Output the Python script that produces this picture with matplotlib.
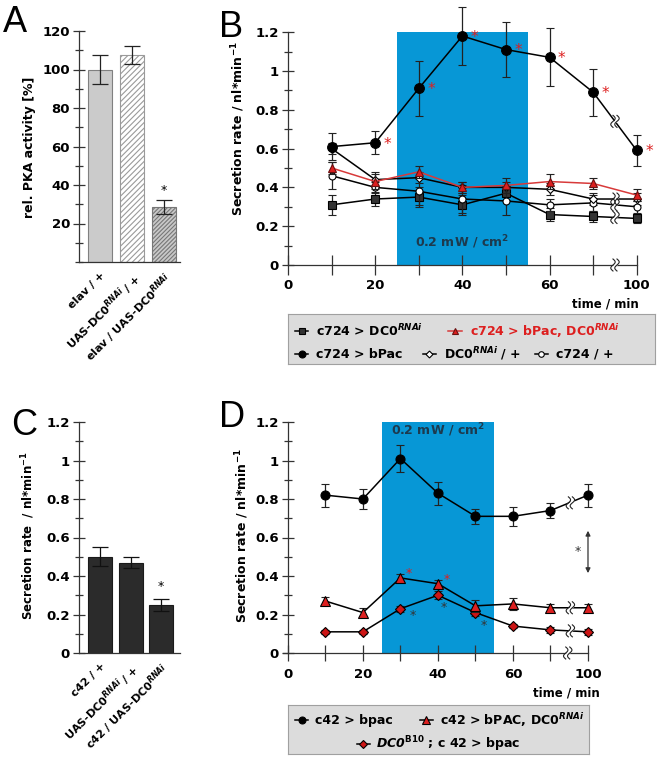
import numpy as np
import matplotlib
matplotlib.use('Agg')
import matplotlib.pyplot as plt
from matplotlib.ticker import MultipleLocator, FixedLocator, FuncFormatter

plt.rcParams['font.family'] = ['DejaVu Sans']
plt.rcParams['font.weight'] = 'bold'
plt.rcParams['mathtext.fontset'] = 'custom'
plt.rcParams['mathtext.rm'] = 'DejaVu Sans:bold'
plt.rcParams['mathtext.it'] = 'DejaVu Sans:italic'
plt.rcParams['mathtext.bf'] = 'DejaVu Sans:bold'
plt.rcParams['mathtext.cal'] = 'DejaVu Sans:bold:italic'
plt.rcParams['hatch.linewidth'] = 0.8

# ---- data ----
# A: PKA activity
pka_labels = ['elav / +', 'UAS-DC0$^{RNAi}$ / +', 'elav / UAS-DC0$^{RNAi}$']
pka_mean = [100, 107.5, 28.5]
pka_err = [7.5, 4.5, 3.5]

# B: secretion, c724 lines (time in min, 100 drawn after axis break)
times = [10, 20, 30, 40, 50, 60, 70, 100]
b_bpac = [0.61, 0.63, 0.91, 1.18, 1.11, 1.07, 0.89, 0.59]
b_bpac_err = [0.07, 0.06, 0.14, 0.15, 0.14, 0.15, 0.12, 0.08]
b_rnai = [0.31, 0.34, 0.35, 0.31, 0.37, 0.26, 0.25, 0.24]
b_rnai_err = [0.05, 0.035, 0.05, 0.05, 0.035, 0.035, 0.03, 0.025]
b_bpac_rnai = [0.50, 0.43, 0.48, 0.40, 0.41, 0.43, 0.42, 0.36]
b_bpac_rnai_err = [0.03, 0.04, 0.03, 0.03, 0.04, 0.04, 0.03, 0.03]
b_dc0 = [0.60, 0.44, 0.45, 0.40, 0.40, 0.39, 0.34, 0.34]
b_dc0_err = [0.03, 0.04, 0.03, 0.03, 0.03, 0.03, 0.03, 0.03]
b_c724 = [0.46, 0.40, 0.38, 0.34, 0.33, 0.31, 0.32, 0.30]
b_c724_err = [0.07, 0.03, 0.07, 0.07, 0.07, 0.03, 0.04, 0.03]
b_sig = [False, True, True, True, True, True, True, True]

# C: secretion, c42 controls
c_labels = ['c42 / +', 'UAS-DC0$^{RNAi}$ / +', 'c42 / UAS-DC0$^{RNAi}$']
c_mean = [0.50, 0.47, 0.25]
c_err = [0.05, 0.03, 0.03]

# D: secretion, c42 lines
d_bpac = [0.82, 0.80, 1.01, 0.83, 0.71, 0.71, 0.74, 0.82]
d_bpac_err = [0.06, 0.05, 0.07, 0.06, 0.04, 0.05, 0.04, 0.06]
d_rnai = [0.27, 0.21, 0.39, 0.36, 0.245, 0.255, 0.235, 0.235]
d_rnai_err = [0.02, 0.025, 0.02, 0.02, 0.03, 0.03, 0.02, 0.02]
d_b10 = [0.11, 0.11, 0.23, 0.30, 0.21, 0.14, 0.12, 0.11]
d_b10_err = [0.01, 0.01, 0.015, 0.02, 0.02, 0.01, 0.015, 0.015]
d_sig_rnai = [False, False, True, True, False, False, False, False]
d_sig_b10 = [False, False, True, True, True, False, False, False]

light = (25, 55)
BLUE = '#0797d6'
RED = '#dd1f1f'
TICKFS = 9.5
LEGFS = 9


def tpos(t):
    # 100 min sits where 80 would be (broken axis)
    return t if t <= 70 else t - 20


xpos = [tpos(t) for t in times]
W, H = 658, 758
fig = plt.figure(figsize=(W / 100, H / 100), dpi=100)


def add_ax(left, top, right, bottom):
    return fig.add_axes([left / W, 1 - bottom / H, (right - left) / W, (bottom - top) / H])


def style(ax):
    for s in ['top', 'right']:
        ax.spines[s].set_visible(False)
    for s in ['left', 'bottom']:
        ax.spines[s].set_color('#333333')
        ax.spines[s].set_linewidth(0.9)
    ax.tick_params(which='major', direction='inout', length=9, width=0.9,
                   color='#333333', labelsize=TICKFS, pad=2)
    ax.tick_params(which='minor', direction='inout', length=6, width=0.9, color='#333333')


def yticks_01(ax):
    ax.set_yticks([0, 0.2, 0.4, 0.6, 0.8, 1.0, 1.2])
    ax.yaxis.set_minor_locator(FixedLocator([0.1, 0.3, 0.5, 0.7, 0.9, 1.1]))
    ax.yaxis.set_major_formatter(FuncFormatter(lambda v, p: f'{v:g}'))


def squiggle(ax, x, y, h=12, w=2.2, gap=4):
    x0, y0 = ax.transData.transform((x, y))
    t = np.linspace(-1, 1, 40)
    inv = ax.transData.inverted()
    curves = []
    for dx in (-gap / 2, gap / 2):
        pts = np.column_stack([x0 + dx + w * np.sin(np.pi * t), y0 + h / 2 * t])
        curves.append(inv.transform(pts))
    ax.fill_betweenx(curves[0][:, 1], curves[0][:, 0], curves[1][:, 0],
                     color='white', zorder=7, clip_on=False, lw=0)
    for c in curves:
        ax.plot(c[:, 0], c[:, 1], color='#222222', lw=0.8, zorder=8, clip_on=False)


def series(ax, y, err, marker, ms, mfc, lc='black', mec='black', z=3):
    ax.errorbar(xpos, y, yerr=err, color=lc, ecolor='#222222', elinewidth=0.9,
                capsize=3, capthick=0.9, lw=1.1, marker=marker, ms=ms, mfc=mfc,
                mec=mec, mew=0.8, zorder=z)


# ---- A ----
axA = add_ax(79, 31, 180, 262)
style(axA)
xa = np.arange(3)
axA.bar(xa[0], pka_mean[0], 0.75, color='#cbcbcb', edgecolor='#808080', lw=0.8)
axA.bar(xa[1], pka_mean[1], 0.75, color='white', edgecolor='#9a9a9a', hatch='//////', lw=0.8)
axA.bar(xa[2], pka_mean[2], 0.75, color='#c8c8c8', edgecolor='#777777', hatch='////////', lw=0.8)
axA.errorbar(xa, pka_mean, yerr=pka_err, fmt='none', ecolor='#222222',
             elinewidth=0.9, capsize=5.5, capthick=0.9)
axA.text(xa[2], pka_mean[2] + pka_err[2] + 2, '*', ha='center', va='bottom',
         fontsize=9, fontweight='normal')
axA.set_xlim(-0.66, 2.5)
axA.set_ylim(0, 120)
axA.set_yticks([20, 40, 60, 80, 100, 120])
axA.yaxis.set_minor_locator(MultipleLocator(10))
axA.set_xticks(xa)
axA.set_xticklabels(pka_labels, rotation=45, ha='right', rotation_mode='anchor', fontsize=8)
axA.tick_params(axis='x', length=0, pad=6)
fig.text(30 / W, 1 - 147 / H, 'rel. PKA activity [%]', rotation=90, ha='center',
         va='center', fontsize=9)

# ---- B ----
axB = add_ax(288, 3, 645.5, 265)
style(axB)
axB.set_xlim(0, 82)
axB.set_ylim(0, 1.35)
axB.spines['left'].set_bounds(0, 1.2)
axB.spines['bottom'].set_bounds(0, 80)
axB.add_patch(plt.Rectangle((light[0], 0), light[1] - light[0], 1.2, color=BLUE, zorder=1, lw=0))
axB.text(np.mean(light), 0.12, '0.2 mW / cm$^2$', ha='center', va='center',
         color='#1d3a4e', fontsize=9, zorder=2)
series(axB, b_rnai, b_rnai_err, 's', 5.5, '#333333', z=3)
series(axB, b_c724, b_c724_err, 'o', 5, 'white', z=4)
series(axB, b_dc0, b_dc0_err, 'D', 4, 'white', z=4)
series(axB, b_bpac_rnai, b_bpac_rnai_err, '^', 6, RED, lc='#d83a3a', mec='#6a1010', z=5)
series(axB, b_bpac, b_bpac_err, 'o', 7, 'black', z=6)
for x, y, s in zip(xpos, b_bpac, b_sig):
    if s:
        axB.annotate('*', (x, y), xytext=(6, -1), textcoords='offset points',
                     color=RED, fontsize=11, fontweight='normal', va='center', zorder=9)
axB.set_xticks([0, 20, 40, 60, 80])
axB.set_xticklabels(['0', '20', '40', '60', '100'])
axB.set_xticks([10, 30, 50, 70], minor=True)
yticks_01(axB)
axB.tick_params(axis='x', which='major', length=14, pad=3)
axB.tick_params(axis='x', which='minor', length=14)
for ys in (b_bpac, b_dc0, b_c724, b_rnai):
    squiggle(axB, 75, (ys[6] + ys[7]) / 2)
squiggle(axB, 75, 0)
fig.text(238 / W, 1 - 129 / H, 'Secretion rate / nl*min$^{-1}$', rotation=90,
         ha='center', va='center', fontsize=9)
fig.text(639 / W, 1 - 304 / H, 'time / min', ha='right', va='center', fontsize=8.5)

# legend B
lgB = add_ax(288, 314, 655, 364)
lgB.set_facecolor('#dcdcdc')
lgB.set_xticks([])
lgB.set_yticks([])
for s in lgB.spines.values():
    s.set_color('#a0a0a0')
lgB.set_xlim(0, 1)
lgB.set_ylim(0, 1)


def legend_item(ax, x, y, marker, ms, mfc, text, lc='black', mec='black', tc='black', hw=0.018):
    ax.plot([x - hw, x + hw], [y, y], color=lc, lw=1.1)
    ax.plot([x], [y], marker=marker, ms=ms, mfc=mfc, mec=mec, mew=0.8)
    ax.text(x + hw + 0.022, y, text, color=tc, fontsize=LEGFS, va='center', ha='left')


legend_item(lgB, 0.037, 0.66, 's', 4.5, '#333333', 'c724 > DC0$^{RNAi}$')
legend_item(lgB, 0.455, 0.66, '^', 5, RED, 'c724 > bPac, DC0$^{RNAi}$',
            lc='#d83a3a', mec='#6a1010', tc=RED)
legend_item(lgB, 0.037, 0.2, 'o', 5, 'black', 'c724 > bPac')
legend_item(lgB, 0.385, 0.2, 'D', 3.5, 'white', 'DC0$^{RNAi}$ / +')
legend_item(lgB, 0.69, 0.2, 'o', 4, 'white', 'c724 / +')

# ---- C ----
axC = add_ax(79, 422, 180, 653)
style(axC)
xc = np.arange(3)
axC.bar(xc, c_mean, 0.79, color='#2b2b2b', edgecolor='#1a1a1a', lw=0.8)
axC.errorbar(xc, c_mean, yerr=c_err, fmt='none', ecolor='#111111',
             elinewidth=0.9, capsize=5.5, capthick=0.9)
axC.text(xc[2], c_mean[2] + c_err[2] + 0.03, '*', ha='center', va='bottom',
         fontsize=9, fontweight='normal')
axC.set_xlim(-0.69, 2.62)
axC.set_ylim(0, 1.2)
yticks_01(axC)
axC.set_xticks(xc)
axC.set_xticklabels(c_labels, rotation=45, ha='right', rotation_mode='anchor', fontsize=8)
axC.tick_params(axis='x', length=0, pad=6)
fig.text(28 / W, 1 - 536 / H, 'Secretion rate  / nl*min$^{-1}$', rotation=90,
         ha='center', va='center', fontsize=8.5)

# ---- D ----
axD = add_ax(283, 422, 603, 653)
style(axD)
axD.set_xlim(-1.3, 84)
axD.set_ylim(0, 1.2)
axD.spines['left'].set_position(('data', 0))
axD.spines['bottom'].set_bounds(-1.3, 80)
axD.add_patch(plt.Rectangle((light[0], 0), light[1] - light[0], 1.2, color=BLUE, zorder=1, lw=0))
axD.text(np.mean(light), 1.155, '0.2 mW / cm$^2$', ha='center', va='center',
         color='#1d3a4e', fontsize=9, zorder=2)
series(axD, d_b10, d_b10_err, 'D', 5, '#cc1515', z=4)
series(axD, d_rnai, d_rnai_err, '^', 6.5, '#dd2020', z=5)
series(axD, d_bpac, d_bpac_err, 'o', 6.5, 'black', z=6)
for x, y, s in zip(xpos, d_rnai, d_sig_rnai):
    if s:
        axD.annotate('*', (x, y), xytext=(4, 3), textcoords='offset points',
                     color=RED, fontsize=9, fontweight='normal', va='center', zorder=9)
b10_off = [(7, -5), (2, -9), (4, -9)]
k = 0
for x, y, s in zip(xpos, d_b10, d_sig_b10):
    if s:
        axD.annotate('*', (x, y), xytext=b10_off[k], textcoords='offset points',
                     color='#333333', fontsize=9, fontweight='normal', va='center', zorder=9)
        k += 1
axD.annotate('', xy=(xpos[-1], 0.415), xytext=(xpos[-1], 0.635),
             arrowprops=dict(arrowstyle='<|-|>', color='#333333', lw=0.9,
                             mutation_scale=7, shrinkA=0, shrinkB=0))
axD.text(77.3, 0.525, '*', ha='center', va='center', fontsize=9,
         fontweight='normal', color='#333333')
axD.set_xticks([0, 20, 40, 60, 80])
axD.set_xticklabels(['0', '20', '40', '60', '100'])
axD.set_xticks([10, 30, 50, 70], minor=True)
yticks_01(axD)
axD.tick_params(axis='x', which='major', length=11, pad=5, color='#333333')
axD.tick_params(axis='x', which='minor', length=11)
for ys in (d_bpac, d_rnai, d_b10):
    squiggle(axD, 75.3, (ys[6] + ys[7]) / 2)
squiggle(axD, 74.6, 0)
fig.text(242 / W, 1 - 536 / H, 'Secretion rate / nl*min$^{-1}$', rotation=90,
         ha='center', va='center', fontsize=9)
fig.text(600 / W, 1 - 693 / H, 'time / min', ha='right', va='center', fontsize=8.5)

# legend D
lgD = add_ax(288, 705, 589, 754)
lgD.set_facecolor('#dcdcdc')
lgD.set_xticks([])
lgD.set_yticks([])
for s in lgD.spines.values():
    s.set_color('#a0a0a0')
lgD.set_xlim(0, 1)
lgD.set_ylim(0, 1)
legend_item(lgD, 0.045, 0.69, 'o', 5, 'black', 'c42 > bpac', hw=0.022)
legend_item(lgD, 0.46, 0.69, '^', 5.5, '#dd2020', 'c42 > bPAC, DC0$^{RNAi}$', hw=0.022)
legend_item(lgD, 0.25, 0.2, 'D', 4, '#cc1515', r'$\mathcal{DC0}^{\mathrm{B10}}$ ; c 42 > bpac', hw=0.022)

# panel letters
for lab, x, y in [('A', 3, 32), ('B', 219, 37), ('C', 11, 435), ('D', 219, 427)]:
    fig.text(x / W, 1 - y / H, lab, fontsize=26, fontweight='normal', ha='left',
             va='baseline', family='Liberation Sans')

fig.savefig('out.png', dpi=100)
